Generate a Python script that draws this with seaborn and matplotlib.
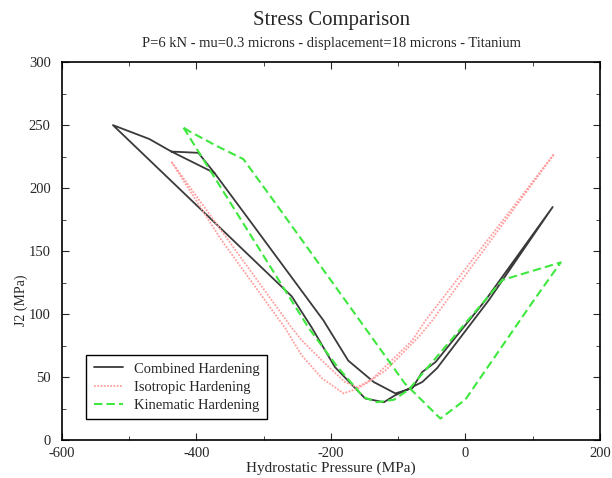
import matplotlib
matplotlib.use('Agg')
import matplotlib.pyplot as plt
import seaborn as sns
import pandas as pd
from matplotlib.ticker import MultipleLocator

# Combined hardening path (one continuous polyline, in drawing order)
comb_p = [-437, -470, -524, -258, -228, -194, -149, -121, -106, -64, -42, 35, 130,
          30, -44, -64, -79, -104, -136, -174, -211, -323, -373, -397, -437, -373]
comb_j2 = [229, 239, 250, 114, 89, 58, 33, 30, 35, 46, 57, 111, 185,
           111, 62, 54, 41, 37, 46, 63, 95, 176, 212, 228, 229, 212]

# Isotropic hardening loop
iso_p = [-437, -363, -268, -243, -213, -181, -159, -119, -69, -49, 132,
         -59, -79, -139, -161, -179, -213, -243, -258, -353, -437]
iso_j2 = [221, 159, 89, 67, 49, 37, 41, 55, 82, 95, 227,
          95, 79, 48, 42, 46, 63, 79, 89, 159, 221]

# Kinematic hardening loop
kin_p = [-419, -377, -233, -190, -151, -131, -106, -84, 55, 142,
         102, 0, -37, -90, -149, -285, -330, -368, -410, -419]
kin_j2 = [248, 212, 89, 58, 34, 30, 32, 40, 127, 141,
          111, 32, 17, 45, 89, 190, 223, 233, 245, 248]

sns.set_style('ticks')
plt.rcParams['font.family'] = ['Liberation Serif', 'DejaVu Serif']
plt.rcParams['axes.unicode_minus'] = False

fig = plt.figure(figsize=(6.12, 4.78), dpi=100)
ax = fig.add_axes([0.101, 0.0795, 0.879, 0.7905])

series = [
    ("Combined Hardening", comb_p, comb_j2, "#3a3a3a", "-", 1.3),
    ("Isotropic Hardening", iso_p, iso_j2, "#ff9f9f", (0, (1, 0.8)), 1.3),
    ("Kinematic Hardening", kin_p, kin_j2, "#3ee83e", (0, (4, 2)), 1.5),
]
for name, p, j, col, ls, lw in series:
    df = pd.DataFrame({"p": p, "j2": j})
    sns.lineplot(data=df, x="p", y="j2", sort=False, estimator=None, ax=ax,
                 color=col, linestyle=ls, linewidth=lw, label=name)

ax.set_xlim(-600, 200)
ax.set_ylim(0, 300)
ax.xaxis.set_major_locator(MultipleLocator(200))
ax.xaxis.set_minor_locator(MultipleLocator(100))
ax.yaxis.set_major_locator(MultipleLocator(50))
ax.yaxis.set_minor_locator(MultipleLocator(25))
ax.tick_params(which='both', direction='in', top=True, right=True, labelsize=10.5)
ax.tick_params(axis='y', pad=8)
ax.tick_params(axis='x', pad=5)
ax.tick_params(which='major', length=5)
ax.tick_params(which='minor', length=3)
for s in ax.spines.values():
    s.set_linewidth(1.2)
    s.set_color('black')

ax.set_xlabel("Hydrostatic Pressure (MPa)", fontsize=11, labelpad=1)
ax.set_ylabel("J2 (MPa)", fontsize=10)
ax.yaxis.set_label_coords(-0.063, 0.37)
fig.text(0.541, 0.958, "Stress Comparison", ha='center', va='center', fontsize=15)
fig.text(0.541, 0.91, "P=6 kN - mu=0.3 microns - displacement=18 microns - Titanium",
         ha='center', va='center', fontsize=10.5)

leg = ax.legend(loc='lower left', bbox_to_anchor=(0.032, 0.035), fontsize=10.5,
                frameon=True, fancybox=False, framealpha=1, edgecolor='black',
                handlelength=2.0, borderpad=0.5, labelspacing=0.35)
leg.get_frame().set_linewidth(1.0)

fig.savefig("out.png", dpi=100)
